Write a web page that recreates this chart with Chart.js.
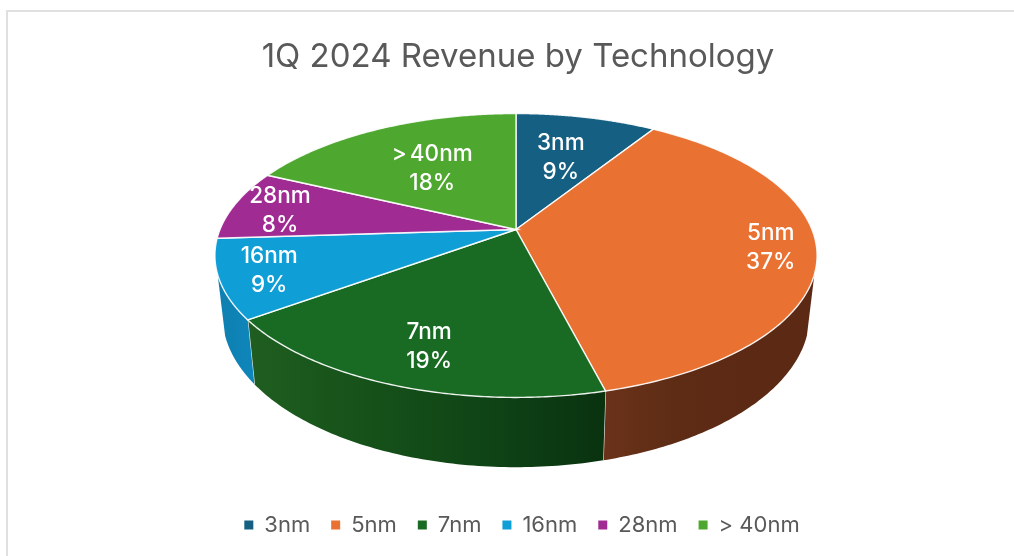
<!DOCTYPE html>
<html>
<head>
<meta charset="utf-8">
<title>1Q 2024 Revenue by Technology</title>
<script src="https://cdn.jsdelivr.net/npm/chart.js@4"></script>
<style>
  html, body { margin: 0; padding: 0; background: #fff; overflow: hidden; }
  #card { position: absolute; left: 6px; top: 10px; right: -4px; bottom: -4px; border: 2px solid #e0e0e0; }
  canvas { position: absolute; left: 0; top: 0; }
</style>
</head>
<body>
<div id="card"></div>
<canvas id="chart" width="1014" height="556"></canvas>
<script>
const categories = ['3nm', '5nm', '7nm', '16nm', '28nm', '> 40nm'];
const shares = [9, 37, 19, 9, 8, 18];
const sliceColors = ['#156082', '#E97132', '#196B24', '#0F9ED5', '#A02B93', '#4EA72E'];
// side wall shading, left to right
const wallColors = [
  ['#0d4055', '#0d4055'],
  ['#6b3219', '#5e2c15', '#5c2a14', '#5c2a14'],
  ['#1f5e20', '#165119', '#0f4416', '#09320f'],
  ['#0f7fb0', '#0e86bb'],
  ['#6c1d63', '#6c1d63'],
  ['#34701f', '#34701f']
];
// how far out each label sits along its slice (0 centre, 1 rim)
const labelReach = [0.60, 0.85, 0.78, 0.84, 0.83, 0.575];
// small turn of the label off the slice middle, degrees
const labelSwing = [0, 0, -0.8, 0, -1, 0];

// projection of the flat pie onto the tilted view
const view = { cx: 516, cy: 229.5, radius: 296, depth: 137.2, tilt: 0.183 };
// rim of the base, relative to the top rim
const base = { shrink: 0.975, drop: 58, stretch: 1.07 };
// wall is hidden behind the top outside of this range (clockwise from 12 o'clock)
const wallFrom = 108 * Math.PI / 180;
const wallTo = 252 * Math.PI / 180;

const project = (theta, k) => {
  const u = Math.sin(theta) * k;
  const v = Math.cos(theta) * k;
  const w = 1 + view.tilt * v;
  return { x: view.cx + view.radius * u / w, y: view.cy - view.depth * v / w };
};
const projectBase = (theta) => {
  const p = project(theta, 1);
  const dy = p.y - view.cy;
  return { x: view.cx + (p.x - view.cx) * base.shrink, y: p.y + base.drop + (base.stretch - 1) * dy };
};

const pie3d = {
  id: 'pie3d',
  afterLayout(chart) {
    // legend sits a little right of the title
    chart.legend.left += 4;
    chart.legend.right += 4;
  },
  beforeDatasetsDraw(chart) {
    const ctx = chart.ctx;
    const arcs = chart.getDatasetMeta(0).data;
    const turn = (a) => a + Math.PI / 2;

    // walls first
    arcs.forEach((arc, i) => {
      const a0 = Math.max(turn(arc.startAngle), wallFrom);
      const a1 = Math.min(turn(arc.endAngle), wallTo);
      if (a1 <= a0) return;
      const top = [];
      const bottom = [];
      for (let s = 0; s <= 80; s++) {
        const t = a0 + (a1 - a0) * s / 80;
        top.push(project(t, 1));
        bottom.push(projectBase(t));
      }
      const xs = top.concat(bottom).map(p => p.x);
      const grad = ctx.createLinearGradient(Math.min(...xs), 0, Math.max(...xs), 0);
      wallColors[i].forEach((c, n) => grad.addColorStop(n / (wallColors[i].length - 1), c));
      ctx.beginPath();
      top.forEach((p, n) => n ? ctx.lineTo(p.x, p.y) : ctx.moveTo(p.x, p.y));
      bottom.reverse().forEach(p => ctx.lineTo(p.x, p.y));
      ctx.closePath();
      ctx.fillStyle = grad;
      ctx.fill();
      // white seam where two walls meet
      if (turn(arc.endAngle) < wallTo) {
        const a = project(a1, 1);
        const b = projectBase(a1);
        ctx.beginPath();
        ctx.moveTo(a.x, a.y);
        ctx.lineTo(b.x, b.y);
        ctx.strokeStyle = '#e8ece8';
        ctx.lineWidth = 1.2;
        ctx.stroke();
      }
    });

    // top faces
    arcs.forEach((arc, i) => {
      const a0 = turn(arc.startAngle);
      const a1 = turn(arc.endAngle);
      ctx.beginPath();
      ctx.moveTo(view.cx, view.cy);
      for (let s = 0; s <= 120; s++) {
        const p = project(a0 + (a1 - a0) * s / 120, 1);
        ctx.lineTo(p.x, p.y);
      }
      ctx.closePath();
      ctx.fillStyle = sliceColors[i];
      ctx.fill();
      ctx.strokeStyle = 'rgba(255,255,255,0.9)';
      ctx.lineWidth = 1.4;
      ctx.stroke();
    });

    // labels
    ctx.fillStyle = '#fff';
    ctx.font = '500 22.5px Inter, "Liberation Sans", sans-serif';
    ctx.wordSpacing = '-3px';
    ctx.textAlign = 'center';
    ctx.textBaseline = 'middle';
    arcs.forEach((arc, i) => {
      const mid = turn((arc.startAngle + arc.endAngle) / 2) + labelSwing[i] * Math.PI / 180;
      const p = project(mid, labelReach[i]);
      ctx.fillText(categories[i], p.x, p.y - 14.5);
      ctx.fillText(shares[i] + '%', p.x, p.y + 14.5);
    });
    ctx.wordSpacing = '0px';
    return false;
  }
};

new Chart(document.getElementById('chart'), {
  type: 'pie',
  data: {
    labels: categories,
    datasets: [{ data: shares, backgroundColor: sliceColors, borderWidth: 0 }]
  },
  plugins: [pie3d],
  options: {
    responsive: false,
    animation: false,
    layout: { padding: { top: 37, left: 22, bottom: 10 } },
    plugins: {
      tooltip: { enabled: false },
      title: {
        display: true,
        text: '1Q 2024 Revenue by Technology',
        color: '#595959',
        font: { family: 'Inter', size: 33, weight: 'normal' },
        padding: { top: 0, bottom: 0 }
      },
      legend: {
        position: 'bottom',
        onClick: null,
        labels: {
          usePointStyle: true,
          pointStyle: 'rect',
          boxHeight: 9,
          pointStyleWidth: 9,
          padding: 21,
          color: '#595959',
          font: { family: 'Inter', size: 22 }
        }
      }
    }
  }
});
</script>
</body>
</html>
